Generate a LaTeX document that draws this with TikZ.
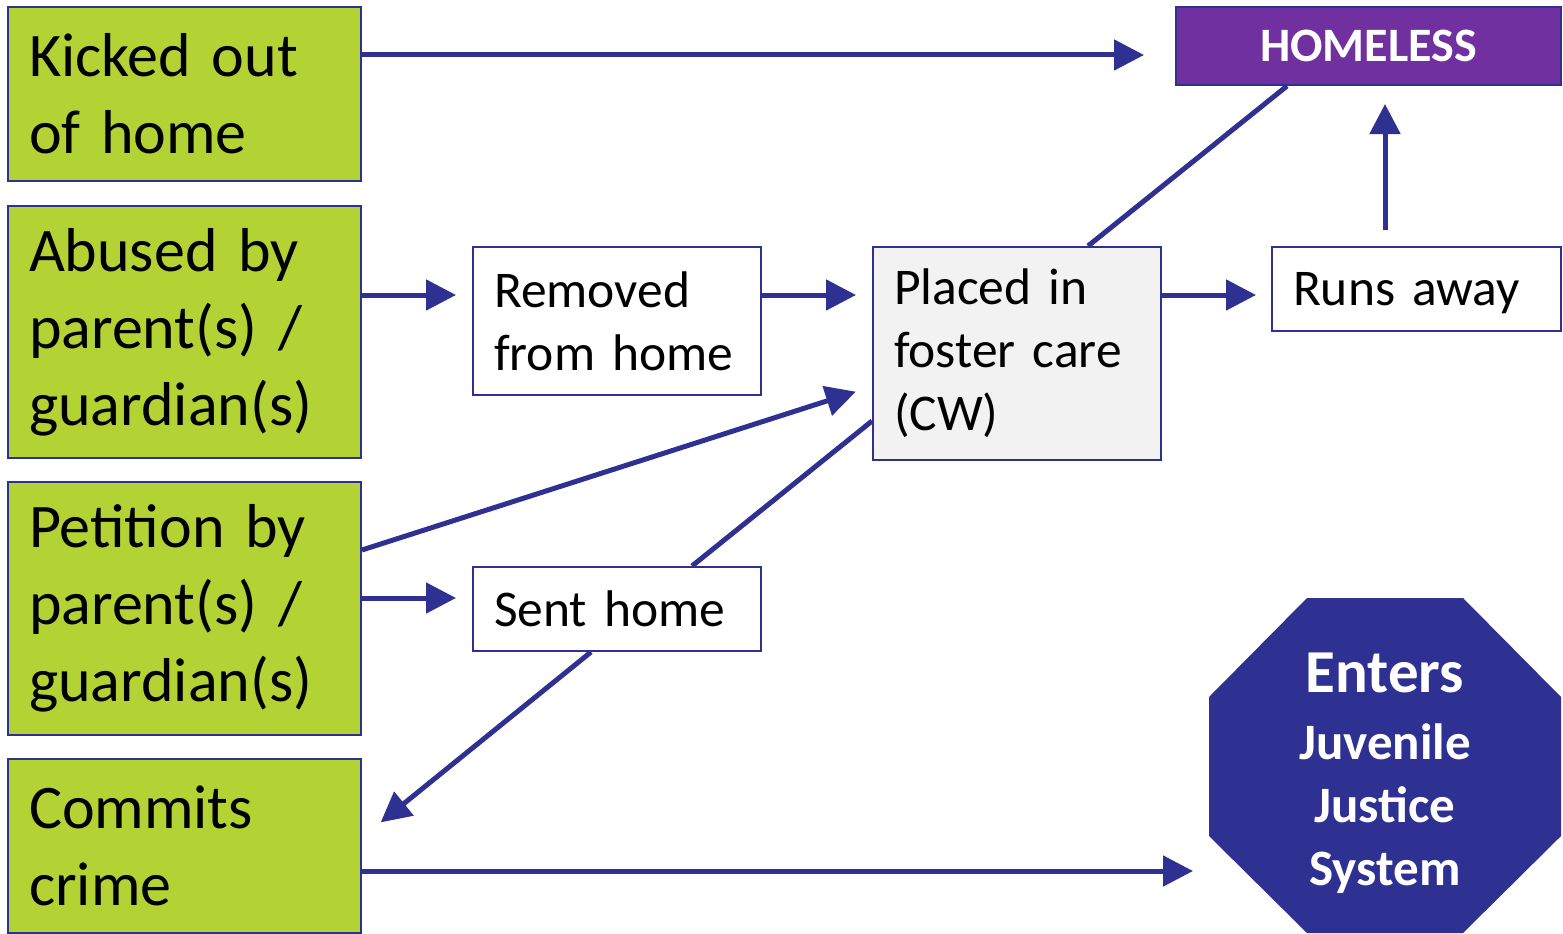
\documentclass[tikz,border=0pt]{standalone}
\usepackage{fontspec}
\setmainfont{Carlito}
\usetikzlibrary{arrows.meta,positioning}
\definecolor{navy}{RGB}{46,49,146}
\definecolor{lime}{RGB}{179,211,53}
\definecolor{plum}{RGB}{112,48,160}
\definecolor{pale}{RGB}{242,242,242}

\begin{document}
\begin{tikzpicture}[x=1pt,y=-1pt,>={Triangle[length=30pt,width=30pt]}]
  \tikzstyle{cause}=[rectangle,draw=navy,line width=2pt,fill=lime,
                     text width=311pt,inner xsep=21pt,inner ysep=0pt,align=left,
                     font=\fontsize{62}{77}\selectfont]
  \tikzstyle{step box}=[rectangle,draw=navy,line width=2pt,fill=white,
                     text width=246pt,inner xsep=21pt,inner ysep=0pt,align=left,
                     font=\fontsize{51.5}{63}\selectfont]
  \tikzstyle{flow}=[->,navy,line width=5pt]

  \useasboundingbox (0,0) rectangle (1563,934);

  % causes on the left
  \node[cause,minimum height=174pt] (kicked)   at (184.5,94)    {Kicked out\\of home};
  \node[cause,minimum height=252pt] (abused)   at (184.5,332)   {Abused by\\parent(s) /\\guardian(s)};
  \node[cause,minimum height=253pt] (petition) at (184.5,608.5) {Petition by\\parent(s) /\\guardian(s)};
  \node[cause,minimum height=174pt] (commits)  at (184.5,846)   {Commits\\crime};

  % middle steps
  \node[step box,minimum height=148pt] (removed) at (617,321)  {Removed\\from home};
  \node[step box,minimum height=84pt]  (sent)    at (617,609)  {Sent home};
  \node[step box,minimum height=213pt,fill=pale] (placed) at (1017,353.5) {Placed in\\foster care\\(CW)};
  \node[step box,minimum height=84pt,text width=247pt,text depth=0pt] (runs) at (1416.5,289) {Runs away};

  % outcomes
  \node[rectangle,draw=navy,line width=2pt,fill=plum,text=white,inner sep=0pt,
        minimum width=385pt,minimum height=78pt,
        font=\bfseries\fontsize{48}{58}\selectfont] (homeless) at (1368.5,46) {HOMELESS};
  \fill[navy] (1307,598) -- (1463,598) -- (1561,697) -- (1561,836)
              -- (1463,933) -- (1307,933) -- (1209,836) -- (1209,697) -- cycle;
  \coordinate (jjsw) at (1209,871);
  \node[text=white,align=center,inner sep=0pt,
        font=\bfseries\fontsize{51}{63}\selectfont] (jjs) at (1385,773)
        {{\fontsize{61}{63}\selectfont Enters}\\[4pt]Juvenile\\Justice\\System};

  \path[flow]
    ([yshift=39pt]kicked.east)    edge[shorten >=31pt] ([yshift=-9pt]homeless.west)
    ([yshift=37pt]abused.east)    edge[shorten >=16pt] ([yshift=26pt]removed.west)
    ([yshift=26pt]removed.east)   edge[shorten >=16pt] ([yshift=58.5pt]placed.west)
    ([yshift=58.5pt]placed.east)  edge[shorten >=15pt] ([yshift=-6pt]runs.west)
    ([xshift=-31.5pt]runs.north)  edge[shorten <=16pt,shorten >=18pt] ([xshift=-31.5pt]runs.north |- homeless.south)
    ([xshift=71pt]placed.north)   edge[-] ([xshift=-81.5pt]homeless.south)
    ([yshift=58.5pt]petition.east) edge[shorten >=17pt] ([yshift=-33pt]placed.west)
    ([yshift=10.5pt]petition.east) edge[shorten >=16pt] ([yshift=11pt]sent.west)
    ([yshift=-67.5pt]placed.west) edge[-] ([xshift=75pt]sent.north)
    ([xshift=-26pt]sent.south)    edge[shorten >=24pt] ([yshift=8.5pt]commits.east)
    ([yshift=-25pt]commits.east)  edge[shorten >=16pt] (jjsw)
  ;

\end{tikzpicture}
\end{document}
